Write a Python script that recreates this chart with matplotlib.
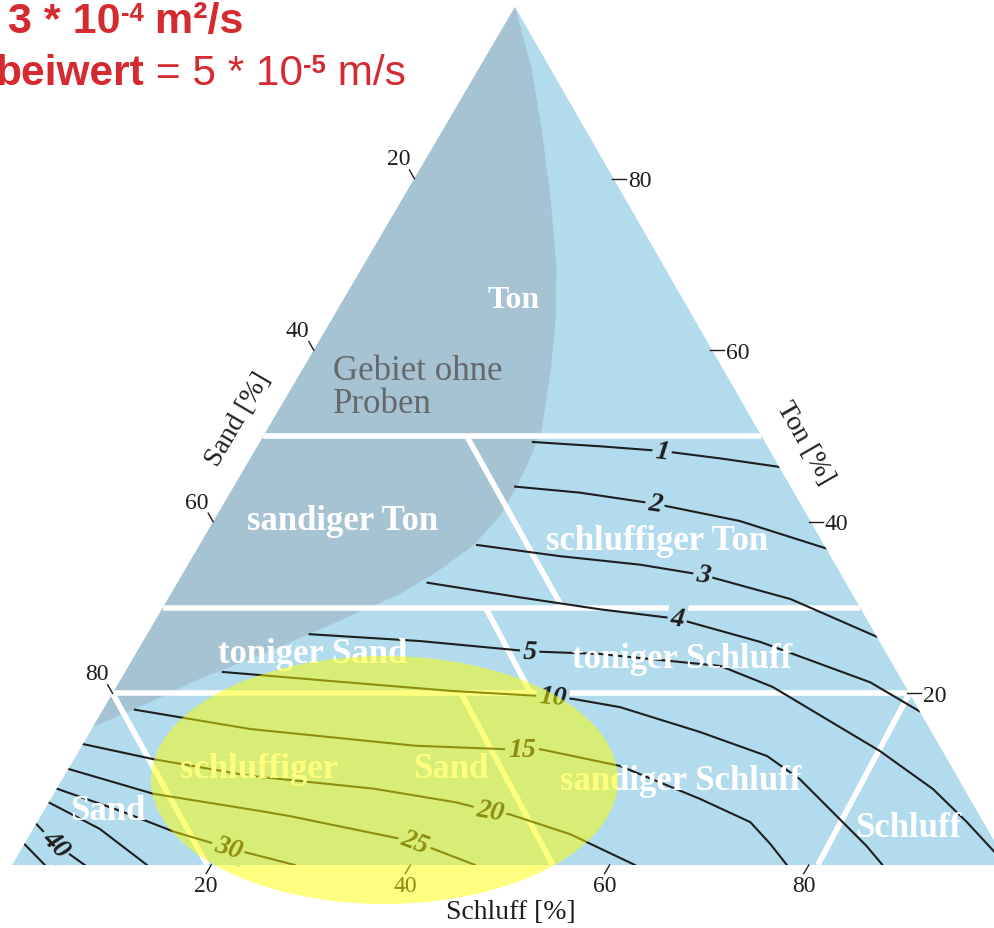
import numpy as np
import matplotlib.pyplot as plt
from matplotlib.patches import Polygon, Ellipse

plt.rcParams['font.family'] = ['Liberation Serif', 'DejaVu Serif']

# contour lines: Schluff [%] (u) and Ton [%] (t) along each line
k1_u = [27.4, 34.4, 40.9, 47.1, 53.6]
k1_t = [49.3, 48.8, 48.25, 47.4, 46.4]
k2_u = [28.25, 35.1, 43.3, 52.8, 63.1]
k2_t = [44.1, 43.4, 42.1, 40.1, 36.9]
k3_u = [27.85, 36.8, 45.4, 52.3, 62.5, 73.4]
k3_t = [37.3, 36.0, 35.0, 33.8, 31.0, 26.6]
k4_u = [25.1, 35.2, 44.0, 52.3, 62.0, 75.4, 82.1]
k4_t = [32.9, 31.2, 29.8, 28.7, 26.0, 21.3, 17.9]
k5_u = [16.3, 27.8, 39.4, 46.6, 48.7, 59.4, 65.9, 80.4, 88.0, 93.35, 97.9]
k5_t = [26.9, 26.1, 24.9, 24.6, 24.36, 23.2, 20.75, 13.3, 8.85, 5.0, 1.5]
k10_u = [9.8, 21.1, 33.7, 43.1, 46.6, 51.75, 61.25, 69.4, 74.05, 80.4, 84.7, 87.4]
k10_t = [22.5, 21.45, 20.3, 19.7, 19.35, 18.4, 15.5, 12.7, 10.0, 5.35, 2.2, 0]
k15_u = [3.2, 15.9, 33.45, 42.7, 46.2, 55.2, 65.2, 71.6, 74.9, 77.8]
k15_t = [18.1, 15.85, 13.9, 13.5, 13.5, 11.55, 7.7, 5.0, 2.45, 0]
k20_u = [0, 7.9, 18.55, 31.8, 40.9, 44.8, 47.0, 54.2, 62.55]
k20_t = [14.1, 12.35, 10.4, 8.9, 7.3, 6.3, 5.9, 3.6, 0]
k25_u = [0, 10.0, 21.7, 25.0, 39.1, 46.5]
k25_t = [11.2, 8.3, 6.3, 5.7, 2.7, 0]
k30_u = [0, 7.7, 14.4, 20.7, 28.4]
k30_t = [8.9, 6.3, 3.85, 2.0, 0]
k35_u = [0, 6.7, 13.55]
k35_t = [7.3, 4.2, 0]
k40_u = [0, 3.1, 7.3]
k40_t = [4.8, 2.45, 0]
k45_u = [0, 3.3]
k45_t = [2.45, 0]

contours = [(1, k1_u, k1_t), (2, k2_u, k2_t), (3, k3_u, k3_t), (4, k4_u, k4_t),
            (5, k5_u, k5_t), (10, k10_u, k10_t), (15, k15_u, k15_t),
            (20, k20_u, k20_t), (25, k25_u, k25_t), (30, k30_u, k30_t),
            (35, k35_u, k35_t), (40, k40_u, k40_t), (45, k45_u, k45_t)]

label_k = [1, 2, 3, 4, 5, 10, 15, 20, 25, 30, 40]
label_u = [40.9, 43.3, 52.3, 52.3, 39.4, 44.4, 44.4, 44.8, 39.1, 20.7, 3.1]
label_t = [48.25, 42.1, 33.8, 28.7, 24.9, 19.6, 13.5, 6.3, 2.7, 2.0, 2.45]

# edge of "Gebiet ohne Proben"
nosample_u = [0, 5.1, 10.1, 14.9, 19.4, 22.3, 24.75, 27.55, 28.1, 28.4, 28.45,
              27.5, 25.4, 23.0, 19.3, 13.1, 7.9, 4.8, 2.4, 0]
nosample_t = [100, 93.1, 85.4, 77.6, 69.8, 64.0, 58.2, 50.8, 47.3, 44.2, 40.7,
              37.2, 34.15, 31.6, 29.0, 24.8, 21.7, 19.35, 17.7, 16.1]

# class borders, start and end point
border_u0 = [0, 0, 0, 20.4, 32.4, 0, 35.0, 80.0]
border_t0 = [50, 30, 20, 50, 30, 20, 20, 20]
border_u1 = [50, 70, 80, 40.1, 42.0, 19.6, 54.3, 80.9]
border_t1 = [50, 30, 20, 30, 20, 0, 0, 0]

class_names = ['Ton', 'sandiger Ton', 'schluffiger Ton', 'toniger Sand',
               'toniger Schluff', 'schluffiger', 'Sand', 'sandiger Schluff',
               'Sand', 'Schluff']
class_u = [17.5, 13.35, 46.2, 18.2, 55.6, 19.6, 38.8, 62.6, 6.9, 88.25]
class_t = [65.0, 39.2, 36.8, 23.7, 23.1, 10.3, 10.3, 8.9, 5.4, 3.4]

note_lines = ['Gebiet ohne', 'Proben']
note_u = [3.6, 5.6]
note_t = [56.6, 52.8]

ticks = [20, 40, 60, 80]

BLUE = '#b2dcee'
DARK = '#a5c3d3'
INK = '#1e1e1e'
RED = '#d42a30'

# picture scale: px per percent along the base and the height
PX_X, PX_Y, X0, Y0 = 9.96, 8.58, 12, 866
SKEW = 0.505


def tern(u, t):
    u = np.asarray(u, float)
    t = np.asarray(t, float)
    return u + SKEW * t, t


def px(x, y):
    return (x - X0) / PX_X, (Y0 - y) / PX_Y


fig = plt.figure(figsize=(9.95, 9.29), dpi=100)
ax = fig.add_axes([0, 0, 1, 1])
ax.set_xlim(px(0, 0)[0], px(995, 0)[0])
ax.set_ylim(px(0, 929)[1], px(0, 0)[1])
ax.axis('off')

tx, ty = tern([0, 100, 0], [0, 0, 100])
tri = Polygon(np.column_stack([tx, ty]), closed=True, fc=BLUE, ec='none', zorder=1)
ax.add_patch(tri)

nx, ny = tern(nosample_u, nosample_t)
ax.add_patch(Polygon(np.column_stack([nx, ny]), closed=True, fc=DARK, ec='none', zorder=2))

for u0, t0, u1, t1 in zip(border_u0, border_t0, border_u1, border_t1):
    bx, by = tern([u0, u1], [t0, t1])
    # the top border stays over the "1" label, the lower ones are broken by labels
    z = 5.5 if t0 == t1 == 50 else 3
    ln, = ax.plot(bx, by, color='white', lw=4, solid_capstyle='butt', zorder=z)
    ln.set_clip_path(tri)

lines = {}
for k, u, t in contours:
    cx, cy = tern(u, t)
    ln, = ax.plot(cx, cy, color=INK, lw=1.5, zorder=4, solid_joinstyle='round')
    ln.set_clip_path(tri)
    lines[k] = (cx, cy)

for k, u, t in zip(label_k, label_u, label_t):
    lx, ly = tern(u, t)
    cx, cy = lines[k]
    pts = ax.transData.transform(np.column_stack([cx, cy]))
    p = ax.transData.transform((float(lx), float(ly)))
    mid = (pts[:-1] + pts[1:]) / 2
    i = np.argmin(np.hypot(*(mid - p).T))
    d = pts[i + 1] - pts[i]
    ang = np.degrees(np.arctan2(d[1], d[0]))
    ax.text(lx, ly, str(k), ha='center', va='center', rotation=ang,
            rotation_mode='anchor', fontsize=20, style='italic', weight='bold',
            color=INK, zorder=5,
            bbox=dict(boxstyle='square,pad=0.1', fc=BLUE, ec='none'))

for name, u, t in zip(class_names, class_u, class_t):
    x, y = tern(u, t)
    fs = 23 if name == 'Ton' else 25
    ax.text(x, y, name, ha='center', va='baseline', fontsize=fs, weight='bold',
            color='white', zorder=6)

for s, u, t in zip(note_lines, note_u, note_t):
    x, y = tern(u, t)
    ax.text(x, y, s, ha='left', va='baseline', fontsize=25, color='#66696c', zorder=6)

# ticks and tick labels
for v in ticks:
    # Schluff along the base
    x, y = tern(v, 0)
    ex, ey = x - 5.05 / PX_X, y - 8.63 / PX_Y
    ax.plot([x, ex], [y, ey], color=INK, lw=1, zorder=4)
    ax.annotate(str(v), (ex, ey), xytext=(0, -1), textcoords='offset points',
                ha='center', va='top', fontsize=17, color=INK, zorder=4)
    # Sand along the left side
    x, y = tern(0, 100 - v)
    ex, ey = x - 4.98 / PX_X, y + 8.67 / PX_Y
    ax.plot([x, ex], [y, ey], color=INK, lw=1, zorder=4)
    ax.annotate(str(v), (ex, ey), xytext=(-8, 4), textcoords='offset points',
                ha='center', va='baseline', fontsize=17, color=INK, zorder=4)
    # Ton along the right side
    x, y = tern(100 - v, v)
    ax.plot([x - 2 / PX_X, x + 12 / PX_X], [y, y], color=INK, lw=1, zorder=4)
    ax.annotate(str(v), (x + 12 / PX_X, y), xytext=(1.5, -5.5), textcoords='offset points',
                ha='left', va='baseline', fontsize=17, color=INK, zorder=4)

ax.text(*px(238, 420), 'Sand [%]', rotation=59.6, rotation_mode='anchor',
        ha='center', va='center', fontsize=20, color=INK)
ax.text(*px(805, 443), 'Ton [%]', rotation=-60.1, rotation_mode='anchor',
        ha='center', va='center', fontsize=20, color=INK)
ax.text(*px(511, 919), 'Schluff [%]', ha='center', va='baseline', fontsize=20, color=INK)

# highlighted area
ax.add_patch(Ellipse(px(384.5, 781), 467 / PX_X, 248 / PX_Y, fc='#ffff00', ec='none',
                     alpha=0.5, zorder=10))


def red_line(x, y, pieces):
    first = fig.text(x / 995, 1 - y / 929, pieces[0][0], fontsize=pieces[0][2],
                     weight=pieces[0][1], color=RED, family='Liberation Sans',
                     va='baseline', zorder=20)
    prev = first
    for s, w, fs, sup in pieces[1:]:
        if sup:
            t = ax.annotate(s, xy=(1, 1), xycoords=prev, va='top', ha='left',
                            fontsize=fs, weight=w, color=RED, family='Liberation Sans',
                            zorder=20)
        else:
            t = ax.annotate(s, xy=(1, 0), xycoords=(prev, first), va='bottom', ha='left',
                            fontsize=fs, weight=w, color=RED, family='Liberation Sans',
                            zorder=20)
        prev = t


red_line(8, 33, [('3 * 10', 'bold', 31, False), ('-4', 'bold', 18.5, True),
                 (' m²/s', 'bold', 31, False)])
red_line(-5, 85, [('beiwert', 'bold', 30.5, False), (' = 5 * 10', 'normal', 30.5, False),
                  ('-5', 'bold', 18.5, True), (' m/s', 'normal', 30.5, False)])

fig.savefig('out.png', dpi=100)
